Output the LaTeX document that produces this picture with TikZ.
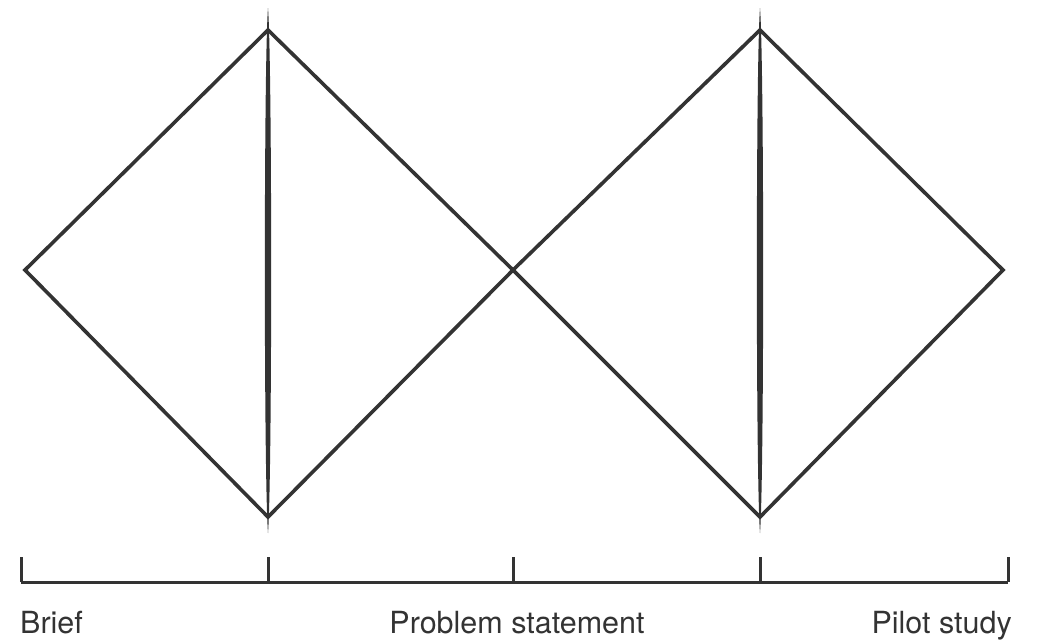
\documentclass[tikz,border=0pt]{standalone}
\usepackage{fontspec}
\setmainfont{TeX Gyre Heros}
\usepackage{tikz}
\usetikzlibrary{positioning, calc}
\usepackage{xcolor}
\definecolor{dInk}{HTML}{333333}

\tikzset{
  edge/.style={dInk, line width=3.6pt, line join=miter},
  axisline/.style={dInk, line width=3pt},
  phase/.style={font=\fontsize{30.5}{36}\selectfont, text=dInk, inner sep=0pt},
}

\begin{document}
\begin{tikzpicture}[x=1pt, y=-1pt]
    \useasboundingbox (0,0) rectangle (1039,641);

    % Diamond corners
    \coordinate (lw) at (25,270);
    \coordinate (lt) at (268,30);
    \coordinate (mid) at (513,270);
    \coordinate (lb) at (268,517);
    \coordinate (rt) at (760,30);
    \coordinate (rb) at (760,517);
    \coordinate (re) at (1003,270);

    % Two diamonds
    \draw[edge] (lw) -- (lt) -- (mid) -- (lb) -- cycle;
    \draw[edge] (mid) -- (rt) -- (re) -- (rb) -- cycle;

    % Vertical strokes (tapered)
    \foreach \x in {268, 760}{
      \fill[dInk] (\x,8) .. controls (\x+4.2,60) and (\x+4.2,480) .. (\x,533)
                  .. controls (\x-4.2,480) and (\x-4.2,60) .. (\x,8);
    }

    % Timeline
    \coordinate (t0) at (21,582);
    \coordinate (t4) at (1008,582);
    \draw[axisline] (t0) -- (t4);
    \foreach \x in {21, 268, 513, 760, 1008}{
      \draw[axisline] (\x,557) -- (\x,582);
    }

    % Phase labels
    \node[phase, anchor=base west] (brief) at (20,633) {Brief};
    \node[phase, anchor=base] (problem) at (517,633) {Problem statement};
    \node[phase, anchor=base east] (pilot) at (1012,633) {Pilot study};
  \end{tikzpicture}
\end{document}
